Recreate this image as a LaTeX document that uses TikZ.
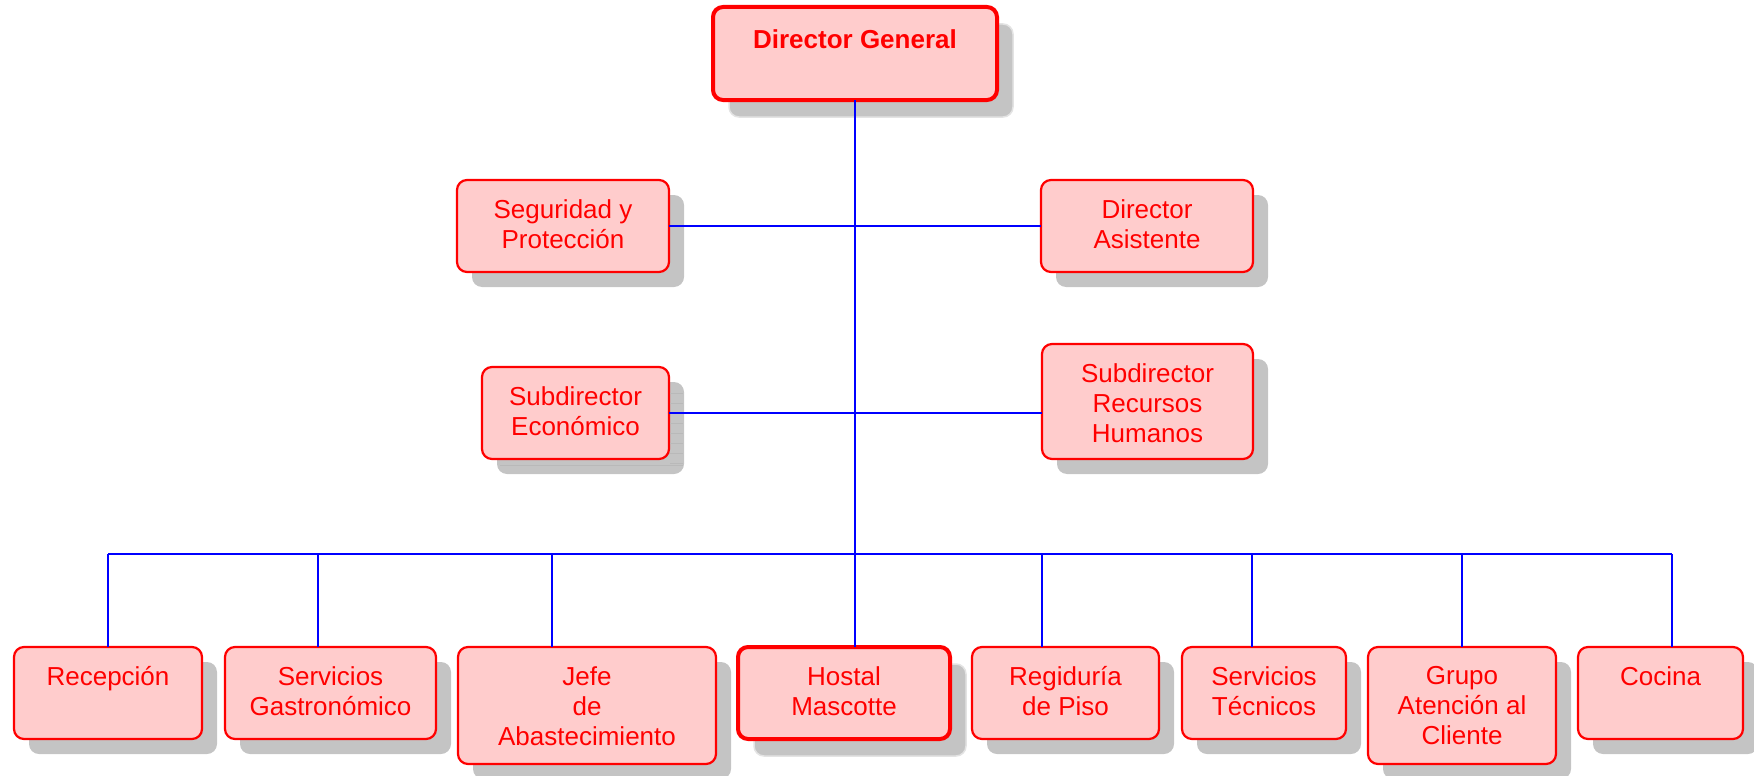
\documentclass[tikz,border=0pt]{standalone}
\usepackage{fontspec}
\setmainfont{Liberation Sans}
\usetikzlibrary{positioning,shadows}
\definecolor{boxfill}{HTML}{FFCCCC}
\definecolor{boxline}{HTML}{FF0000}
\definecolor{wire}{HTML}{0000FF}
\definecolor{shade}{HTML}{C4C4C4}

\begin{document}
\begin{tikzpicture}[x=1pt,y=-1pt,
  boxbase/.style={draw=boxline, fill=boxfill, rounded corners=10pt,
    inner sep=0pt, outer sep=0pt},
  unitbox/.style={boxbase, line width=2.2pt,
    general shadow={fill=shade, shadow xshift=15pt, shadow yshift=-15pt}},
  keybox/.style={boxbase, line width=4pt,
    general shadow={fill=shade, draw=gray!22, line width=1.5pt,
      shadow xshift=16pt, shadow yshift=-17pt}},
  txt/.style={text=boxline, font=\fontsize{26}{30.3}\selectfont, align=center,
    inner sep=0pt, execute at begin node={\rule{0pt}{24pt}}},
  wireline/.style={draw=wire, line width=1.8pt}]
\useasboundingbox (0,0) rectangle (1754,776);

% top level
\node[keybox, minimum width=284pt, minimum height=93pt] (dg) at (855,53.5) {};
\node[txt, font=\fontsize{26}{30.3}\selectfont\bfseries, below=17pt of dg.north] (dgt) {Director General};

% staff level
\node[unitbox, minimum width=212pt, minimum height=92pt] (seg) at (563,226) {};
\node[txt, below=19pt of seg.north] (segt) {Seguridad y\\Protección};
\node[unitbox, minimum width=212pt, minimum height=92pt] (asis) at (1147,226) {};
\node[txt, below=19pt of asis.north] (asist) {Director\\Asistente};

% deputy level
\node[unitbox, minimum width=187pt, minimum height=92pt] (sube) at (575.5,413) {};
\node[txt, below=19pt of sube.north] (subet) {Subdirector\\Económico};
\foreach \yy in {393,403,...,463}
  \draw[gray!55, line width=0.8pt] (670,\yy) -- (683,\yy);
\draw[gray!55, line width=0.8pt] (500,465) -- (683,465);
\node[unitbox, minimum width=211pt, minimum height=115pt] (subrh) at (1147.5,401.5) {};
\node[txt, below=19pt of subrh.north] (subrht) {Subdirector\\Recursos\\Humanos};

% operational units
\node[unitbox, minimum width=188pt, minimum height=92pt] (rec) at (108,693) {};
\node[txt, below=14pt of rec.north] (rect) {Recepción};
\node[unitbox, minimum width=211pt, minimum height=92pt] (gas) at (330.5,693) {};
\node[txt, below=19pt of gas.north] (gast) {Servicios\\Gastronómico};
\node[unitbox, minimum width=258pt, minimum height=117pt] (jefe) at (587,705.5) {};
\node[txt, below=19pt of jefe.north] (jefet) {Jefe\\de\\Abastecimiento};
\node[keybox, minimum width=212pt, minimum height=92pt] (host) at (844,693) {};
\node[txt, below=19pt of host.north] (hostt) {Hostal\\Mascotte};
\node[unitbox, minimum width=187pt, minimum height=92pt] (reg) at (1065.5,693) {};
\node[txt, below=19pt of reg.north] (regt) {Regiduría\\de Piso};
\node[unitbox, minimum width=164pt, minimum height=92pt] (tec) at (1264,693) {};
\node[txt, below=19pt of tec.north] (tect) {Servicios\\Técnicos};
\node[unitbox, minimum width=188pt, minimum height=117pt] (grupo) at (1462,705.5) {};
\node[txt, below=19pt of grupo.north] (grupot) {Grupo\\Atención al\\Cliente};
\node[unitbox, minimum width=165pt, minimum height=92pt] (coc) at (1660.5,693) {};
\node[txt, below=14pt of coc.north] (coct) {Cocina};

% distribution bar
\coordinate (b1) at (108,554);
\coordinate (b2) at (318,554);
\coordinate (b3) at (552,554);
\coordinate (b4) at (855,554);
\coordinate (b5) at (1042,554);
\coordinate (b6) at (1252,554);
\coordinate (b7) at (1462,554);
\coordinate (b8) at (1672,554);

% connectors
\draw[wireline] (dg.south) -- (b4);
\draw[wireline] (seg.east) -- (asis.west);
\draw[wireline] (sube.east) -- (sube.east -| subrh.west);
\draw[wireline] (b1) -- (b8);
\draw[wireline] (b1) -- (b1 |- rec.north);
\draw[wireline] (b2) -- (b2 |- gas.north);
\draw[wireline] (b3) -- (b3 |- jefe.north);
\draw[wireline] (b4) -- (b4 |- host.north);
\draw[wireline] (b5) -- (b5 |- reg.north);
\draw[wireline] (b6) -- (b6 |- tec.north);
\draw[wireline] (b7) -- (b7 |- grupo.north);
\draw[wireline] (b8) -- (b8 |- coc.north);
\end{tikzpicture}
\end{document}
